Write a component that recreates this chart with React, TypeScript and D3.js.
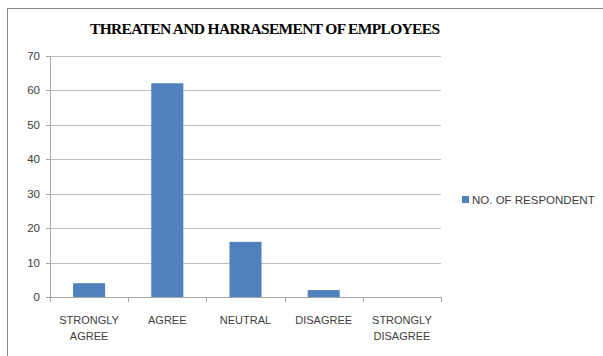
import React from "react";
import * as d3 from "d3";

const categories: string[][] = [
  ["STRONGLY", "AGREE"],
  ["AGREE"],
  ["NEUTRAL"],
  ["DISAGREE"],
  ["STRONGLY", "DISAGREE"],
];
const categoryKeys = ["STRONGLY AGREE", "AGREE", "NEUTRAL", "DISAGREE", "STRONGLY DISAGREE"];
const respondents = [4, 62, 16, 2, 0];
const yTicks = [0, 10, 20, 30, 40, 50, 60, 70];
const seriesName = "NO. OF RESPONDENT";
const title = "THREATEN AND HARRASEMENT OF EMPLOYEES";

const W = 603;
const H = 356;
const plot = { left: 50, right: 441, top: 55.7, bottom: 297 };
const barColor = "#4f81bd";
const textColor = "#404040";
const sans = "'Liberation Sans', Arial, sans-serif";

export default function App() {
  const x = d3
    .scaleBand<string>()
    .domain(categoryKeys)
    .range([plot.left, plot.right])
    .paddingInner(0.59)
    .paddingOuter(0.295);
  const xOuter = d3.scaleBand<string>().domain(categoryKeys).range([plot.left, plot.right]);
  const y = d3.scaleLinear().domain([0, 70]).range([plot.bottom, plot.top]);

  const tickXs = [...categoryKeys.map((k) => xOuter(k) as number), plot.right];

  return (
    <svg
      width={W}
      height={H}
      style={{ position: "absolute", left: 0, top: 0, background: "#fff" }}
    >
      <rect x={7.5} y={8.5} width={620} height={360} fill="#fff" stroke="#868686" strokeWidth={1} />
      <text
        x={90}
        y={34}
        textLength={350}
        lengthAdjust="spacing"
        fontFamily="'Liberation Serif', 'Times New Roman', serif"
        fontWeight="bold"
        fontSize={15.5}
        fill="#000"
      >
        {title}
      </text>
      {yTicks.map((t) => (
        <g key={t}>
          {t > 0 && (
            <line
              x1={plot.left}
              x2={plot.right}
              y1={Math.round(y(t)) + 0.5}
              y2={Math.round(y(t)) + 0.5}
              stroke="#bfbfbf"
            />
          )}
          <line
            x1={plot.left - 4}
            x2={plot.left}
            y1={Math.round(y(t)) + 0.5}
            y2={Math.round(y(t)) + 0.5}
            stroke="#a6a6a6"
          />
          <text
            x={plot.left - 10}
            y={y(t)}
            dy="0.35em"
            textAnchor="end"
            fontFamily={sans}
            fontSize={11.5}
            fill={textColor}
          >
            {t}
          </text>
        </g>
      ))}
      <line
        x1={plot.left + 0.5}
        x2={plot.left + 0.5}
        y1={plot.top}
        y2={plot.bottom}
        stroke="#a6a6a6"
      />
      {respondents.map((v, i) => (
        <rect
          key={categoryKeys[i]}
          x={x(categoryKeys[i])}
          y={y(v)}
          width={x.bandwidth()}
          height={plot.bottom - y(v)}
          fill={barColor}
        />
      ))}
      <line
        x1={plot.left}
        x2={plot.right}
        y1={Math.round(plot.bottom) + 0.5}
        y2={Math.round(plot.bottom) + 0.5}
        stroke="#a6a6a6"
      />
      {tickXs.map((tx, i) => (
        <line
          key={i}
          x1={Math.round(tx) + 0.5}
          x2={Math.round(tx) + 0.5}
          y1={plot.bottom}
          y2={plot.bottom + 5}
          stroke="#a6a6a6"
        />
      ))}
      {categories.map((lines, i) => (
        <text
          key={i}
          textAnchor="middle"
          fontFamily={sans}
          fontSize={11}
          fill={textColor}
        >
          {lines.map((l, j) => (
            <tspan key={j} x={(xOuter(categoryKeys[i]) as number) + xOuter.bandwidth() / 2} y={323.5 + j * 16.5}>
              {l}
            </tspan>
          ))}
        </text>
      ))}
      <rect x={462} y={196} width={7} height={7} fill={barColor} />
      <text x={472} y={203.5} fontFamily={sans} fontSize={11.5} fill={textColor}>
        {seriesName}
      </text>
    </svg>
  );
}
